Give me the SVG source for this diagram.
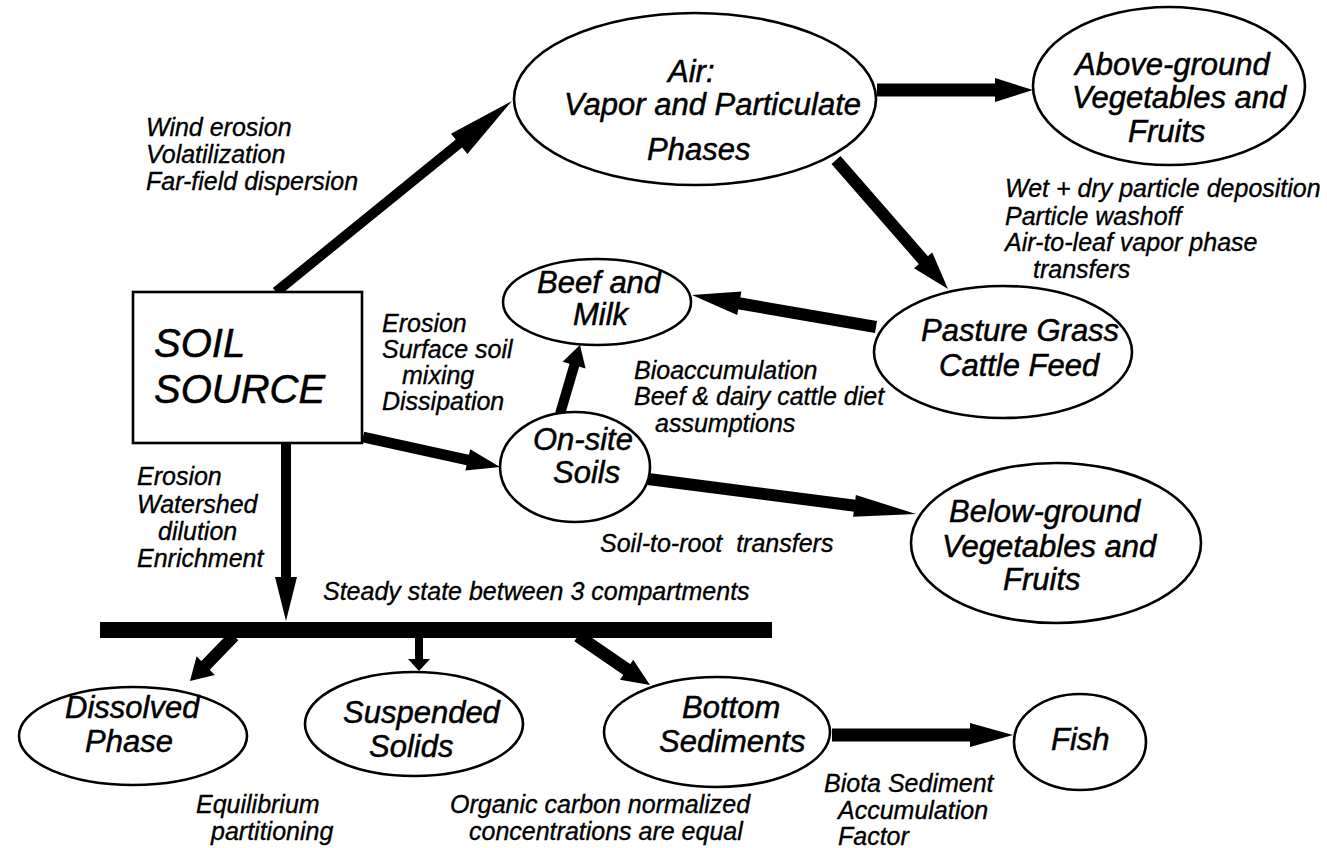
<svg xmlns="http://www.w3.org/2000/svg" width="1327" height="848" viewBox="0 0 1327 848">
<style>
.bg{fill:#fff}
.node{fill:#fff;stroke:#000;stroke-width:2.6}
.nt{font-family:"Liberation Sans",Arial,Helvetica,sans-serif;font-style:italic;font-size:31px;fill:#000;stroke:#000;stroke-width:0.5}
.big{font-size:40px}
.lb{font-family:"Liberation Sans",Arial,Helvetica,sans-serif;font-style:italic;font-size:25px;fill:#000;stroke:#000;stroke-width:0.35}
.sh{stroke:#000;fill:none;stroke-linecap:butt}
.hd{fill:#000;stroke:none}
</style>
<rect class="bg" x="0" y="0" width="1327" height="848"/>

<g id="connectors">
  <!-- Soil source -> Air -->
  <line class="sh" x1="276" y1="292" x2="462" y2="141" stroke-width="10"/>
  <polygon class="hd" points="512,101 467.4,153.9 451,133.7"/>
  <!-- Air -> Above-ground -->
  <line class="sh" x1="877" y1="90" x2="997" y2="90" stroke-width="13"/>
  <polygon class="hd" points="1033,90 995,78 995,102"/>
  <!-- Air -> Pasture -->
  <line class="sh" x1="836" y1="160" x2="925" y2="262" stroke-width="12"/>
  <polygon class="hd" points="948,289 914,268.2 932.2,252.4"/>
  <!-- Pasture -> Beef -->
  <line class="sh" x1="876" y1="327" x2="737" y2="303" stroke-width="12"/>
  <polygon class="hd" points="692,295 741.4,291.4 737.2,315"/>
  <!-- On-site -> Beef -->
  <line class="sh" x1="560" y1="414" x2="575" y2="363" stroke-width="10"/>
  <polygon class="hd" points="580,345 585.6,368.5 562.6,361.7"/>
  <!-- Soil source -> On-site -->
  <line class="sh" x1="363" y1="437" x2="470" y2="460.5" stroke-width="11"/>
  <polygon class="hd" points="500,467 465.4,470.6 470.2,449.2"/>
  <!-- On-site -> Below-ground -->
  <line class="sh" x1="648" y1="479" x2="857" y2="506" stroke-width="12"/>
  <polygon class="hd" points="916,514 853.1,516.8 855.9,495"/>
  <!-- Soil source -> bar -->
  <line class="sh" x1="286" y1="443" x2="286" y2="579" stroke-width="10"/>
  <polygon class="hd" points="286,621 275,577 297,577"/>
  <!-- Bar -->
  <rect class="hd" x="100" y="622" width="672" height="16"/>
  <!-- Bar -> Dissolved -->
  <line class="sh" x1="234" y1="636" x2="204" y2="667" stroke-width="12"/>
  <polygon class="hd" points="190,681 196.6,656.3 214.8,674.9"/>
  <!-- Bar -> Suspended -->
  <line class="sh" x1="419" y1="636" x2="419" y2="661" stroke-width="8"/>
  <polygon class="hd" points="419,671 408,659 430,659"/>
  <!-- Bar -> Bottom -->
  <line class="sh" x1="578" y1="636" x2="629" y2="671" stroke-width="13"/>
  <polygon class="hd" points="650,685 620,679.7 633.2,659.7"/>
  <!-- Bottom -> Fish -->
  <line class="sh" x1="832" y1="735" x2="972" y2="735" stroke-width="13"/>
  <polygon class="hd" points="1013,735 970,723 970,747"/>
</g>

<g id="soil-source">
  <rect class="node" x="133" y="292" width="229" height="151"/>
  <text class="nt big" x="154" y="357">SOIL</text>
  <text class="nt big" x="154" y="403">SOURCE</text>
</g>

<g id="air">
  <ellipse class="node" cx="695" cy="99" rx="181" ry="86"/>
  <text class="nt" x="668" y="82">Air:</text>
  <text class="nt" x="564" y="115">Vapor and Particulate</text>
  <text class="nt" x="647" y="160">Phases</text>
</g>

<g id="above-ground">
  <ellipse class="node" cx="1169" cy="86" rx="136" ry="79"/>
  <text class="nt" x="1075" y="75">Above-ground</text>
  <text class="nt" x="1072" y="108">Vegetables and</text>
  <text class="nt" x="1128" y="142">Fruits</text>
</g>

<g id="pasture">
  <ellipse class="node" cx="1003" cy="352" rx="129" ry="66"/>
  <text class="nt" x="921" y="341">Pasture Grass</text>
  <text class="nt" x="939" y="376">Cattle Feed</text>
</g>

<g id="beef-milk">
  <ellipse class="node" cx="597" cy="302" rx="94" ry="43"/>
  <text class="nt" x="537" y="293">Beef and</text>
  <text class="nt" x="573" y="325">Milk</text>
</g>

<g id="on-site-soils">
  <ellipse class="node" cx="575" cy="467" rx="75" ry="55"/>
  <text class="nt" x="533" y="450">On-site</text>
  <text class="nt" x="553" y="483">Soils</text>
</g>

<g id="below-ground">
  <ellipse class="node" cx="1056" cy="543" rx="145" ry="80"/>
  <text class="nt" x="949" y="522">Below-ground</text>
  <text class="nt" x="942" y="557">Vegetables and</text>
  <text class="nt" x="1003" y="590">Fruits</text>
</g>

<g id="dissolved">
  <ellipse class="node" cx="133" cy="736" rx="114" ry="49"/>
  <text class="nt" x="65" y="718">Dissolved</text>
  <text class="nt" x="85" y="752">Phase</text>
</g>

<g id="suspended">
  <ellipse class="node" cx="414" cy="724" rx="109" ry="52"/>
  <text class="nt" x="343" y="723">Suspended</text>
  <text class="nt" x="369" y="757">Solids</text>
</g>

<g id="bottom-sediments">
  <ellipse class="node" cx="717" cy="732" rx="113" ry="55"/>
  <text class="nt" x="682" y="718">Bottom</text>
  <text class="nt" x="659" y="752">Sediments</text>
</g>

<g id="fish">
  <ellipse class="node" cx="1080" cy="742" rx="66" ry="48"/>
  <text class="nt" x="1051" y="750">Fish</text>
</g>

<g id="labels">
  <text class="lb" x="146" y="136">Wind erosion</text>
  <text class="lb" x="146" y="163">Volatilization</text>
  <text class="lb" x="146" y="190">Far-field dispersion</text>

  <text class="lb" x="382" y="332">Erosion</text>
  <text class="lb" x="382" y="358">Surface soil</text>
  <text class="lb" x="402" y="384">mixing</text>
  <text class="lb" x="382" y="410">Dissipation</text>

  <text class="lb" x="634" y="379">Bioaccumulation</text>
  <text class="lb" x="634" y="405">Beef &amp; dairy cattle diet</text>
  <text class="lb" x="655" y="432">assumptions</text>

  <text class="lb" x="1005" y="197">Wet + dry particle deposition</text>
  <text class="lb" x="1005" y="225">Particle washoff</text>
  <text class="lb" x="1005" y="251">Air-to-leaf vapor phase</text>
  <text class="lb" x="1033" y="278">transfers</text>

  <text class="lb" x="137" y="485">Erosion</text>
  <text class="lb" x="137" y="513">Watershed</text>
  <text class="lb" x="158" y="540">dilution</text>
  <text class="lb" x="137" y="567">Enrichment</text>

  <text class="lb" x="600" y="552">Soil-to-root&#160; transfers</text>
  <text class="lb" x="323" y="600">Steady state between 3 compartments</text>

  <text class="lb" x="196" y="813">Equilibrium</text>
  <text class="lb" x="211" y="840">partitioning</text>

  <text class="lb" x="450" y="813">Organic carbon normalized</text>
  <text class="lb" x="469" y="840">concentrations are equal</text>

  <text class="lb" x="824" y="792">Biota Sediment</text>
  <text class="lb" x="838" y="819">Accumulation</text>
  <text class="lb" x="838" y="845">Factor</text>
</g>
</svg>
